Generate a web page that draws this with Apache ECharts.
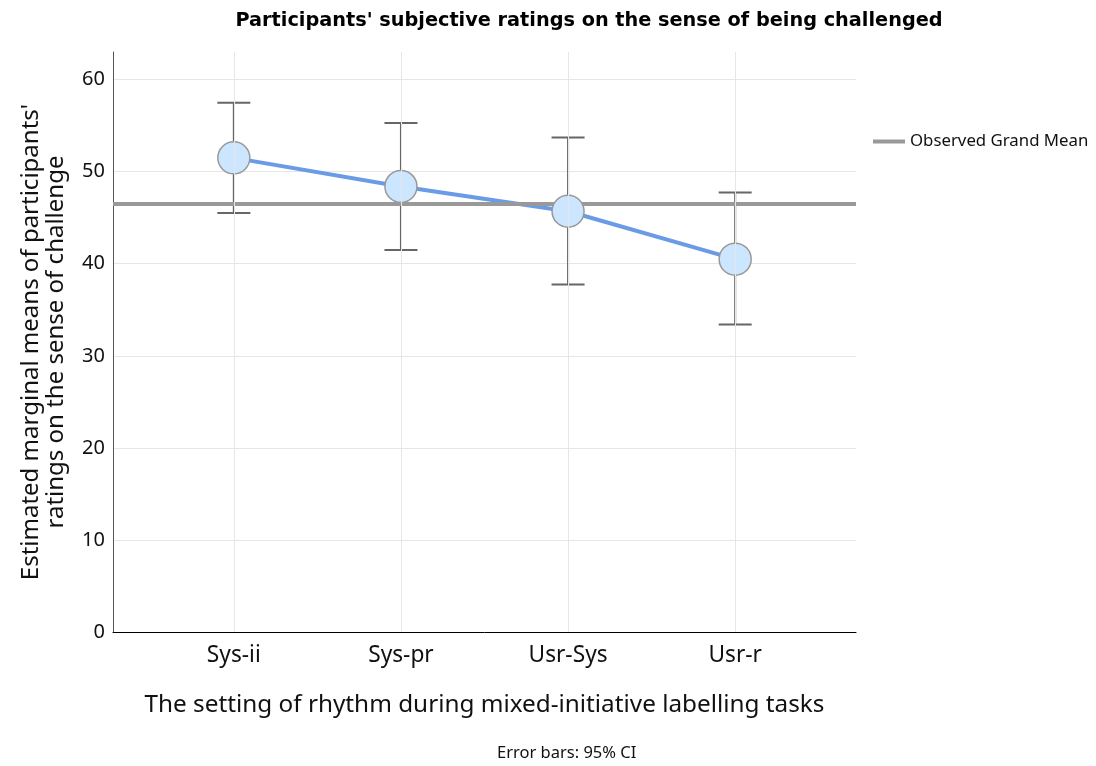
<!DOCTYPE html>
<html><head><meta charset="utf-8">
<script src="https://cdn.jsdelivr.net/npm/echarts@6/dist/echarts.min.js"></script>
<style>html,body{margin:0;padding:0;background:#fff}#c{width:1096px;height:766px}</style>
</head><body><div id="c"></div>
<script>
const categories = ['Sys-ii', 'Sys-pr', 'Usr-Sys', 'Usr-r'];
const means = [51.5, 48.4, 45.7, 40.5];
const ciLower = [45.5, 41.5, 37.75, 33.4];
const ciUpper = [57.5, 55.3, 53.7, 47.75];
const grandMean = 46.5;
const yTicks = [0, 10, 20, 30, 40, 50, 60];

const FONT = 'Noto Sans';
const xMin = -0.723, xMax = 3.723;
const chart = echarts.init(document.getElementById('c'));
const idx = categories.map((c, i) => i);

chart.setOption({
  animation: false,
  textStyle: { fontFamily: FONT },
  title: {
    text: "Participants' subjective ratings on the sense of being challenged",
    left: 584, top: 6, textAlign: 'center',
    textStyle: { fontFamily: 'DejaVu Sans', fontWeight: 'bold', fontSize: 19.3, color: '#000' }
  },
  legend: {
    left: 868, top: 128,
    data: [{ name: 'Observed Grand Mean', icon: 'rect' }],
    itemWidth: 32, itemHeight: 4, itemGap: 5,
    textStyle: { fontFamily: FONT, fontSize: 16.8, color: '#111', padding: [0, 0, 0, 0] }
  },
  graphic: [{
    type: 'text', left: 497, top: 745,
    style: { text: 'Error bars: 95% CI', font: '16.5px "Noto Sans"', fill: '#111' }
  }],
  grid: { left: 113, right: 240, top: 52, bottom: 134 },
  xAxis: {
    type: 'value', min: xMin, max: xMax,
    name: 'The setting of rhythm during mixed-initiative labelling tasks',
    nameLocation: 'middle', nameGap: 61,
    nameTextStyle: { fontFamily: FONT, fontSize: 24.3, color: '#111' },
    axisLine: { show: true, onZero: false, lineStyle: { color: '#000', width: 1 } },
    axisTick: { show: false },
    splitLine: { show: false },
    axisLabel: {
      customValues: idx, margin: 12,
      fontFamily: FONT, fontSize: 22.7, color: '#111',
      formatter: v => categories[Math.round(v)]
    }
  },
  yAxis: {
    type: 'value', min: 0, max: 63,
    name: "Estimated marginal means of participants'\nratings on the sense of challenge",
    nameLocation: 'middle', nameGap: 44, nameRotate: 90,
    nameTextStyle: { fontFamily: FONT, fontSize: 24, color: '#111', lineHeight: 25, align: 'center' },
    axisLine: { show: true, onZero: false, lineStyle: { color: '#555', width: 1 } },
    axisTick: { show: false, customValues: yTicks },
    splitLine: { show: true, lineStyle: { color: '#e6e6e6', width: 1 } },
    axisLabel: {
      customValues: yTicks, margin: 8,
      fontFamily: FONT, fontSize: 20, color: '#111'
    }
  },
  series: [
    {
      type: 'line', name: 'vgrid', silent: true, data: [],
      markLine: {
        symbol: 'none', silent: true, label: { show: false },
        lineStyle: { color: '#e6e6e6', width: 1, type: 'solid' },
        data: idx.map(i => ({ xAxis: i }))
      }, z: 0
    },
    {
      type: 'custom', name: 'ci', z: 1,
      data: idx.map(i => [i, ciLower[i], ciUpper[i]]),
      renderItem: (params, api) => {
        const lo = api.coord([api.value(0), api.value(1)]);
        const hi = api.coord([api.value(0), api.value(2)]);
        const hw = 16.5;
        const st = { stroke: '#666', lineWidth: 2 };
        return { type: 'group', children: [
          { type: 'line', shape: { x1: lo[0], y1: lo[1], x2: hi[0], y2: hi[1] }, style: st },
          { type: 'line', shape: { x1: lo[0] - hw, y1: lo[1], x2: lo[0] + hw, y2: lo[1] }, style: st },
          { type: 'line', shape: { x1: hi[0] - hw, y1: hi[1], x2: hi[0] + hw, y2: hi[1] }, style: st }
        ]};
      }
    },
    {
      type: 'line', name: 'means', z: 2, symbol: 'none',
      data: idx.map(i => [i, means[i]]),
      lineStyle: { color: '#6a9be6', width: 4 }
    },
    {
      type: 'line', name: 'Observed Grand Mean', z: 3, symbol: 'none',
      data: [[xMin, grandMean], [xMax, grandMean]],
      lineStyle: { color: '#999999', width: 4 },
      itemStyle: { color: '#999999' }
    },
    {
      type: 'scatter', name: 'pts', z: 4, symbolSize: 32,
      data: idx.map(i => [i, means[i]]),
      itemStyle: { color: '#cde6ff', borderColor: '#999', borderWidth: 1.5, opacity: 1 }
    }
  ]
});
</script></body></html>
